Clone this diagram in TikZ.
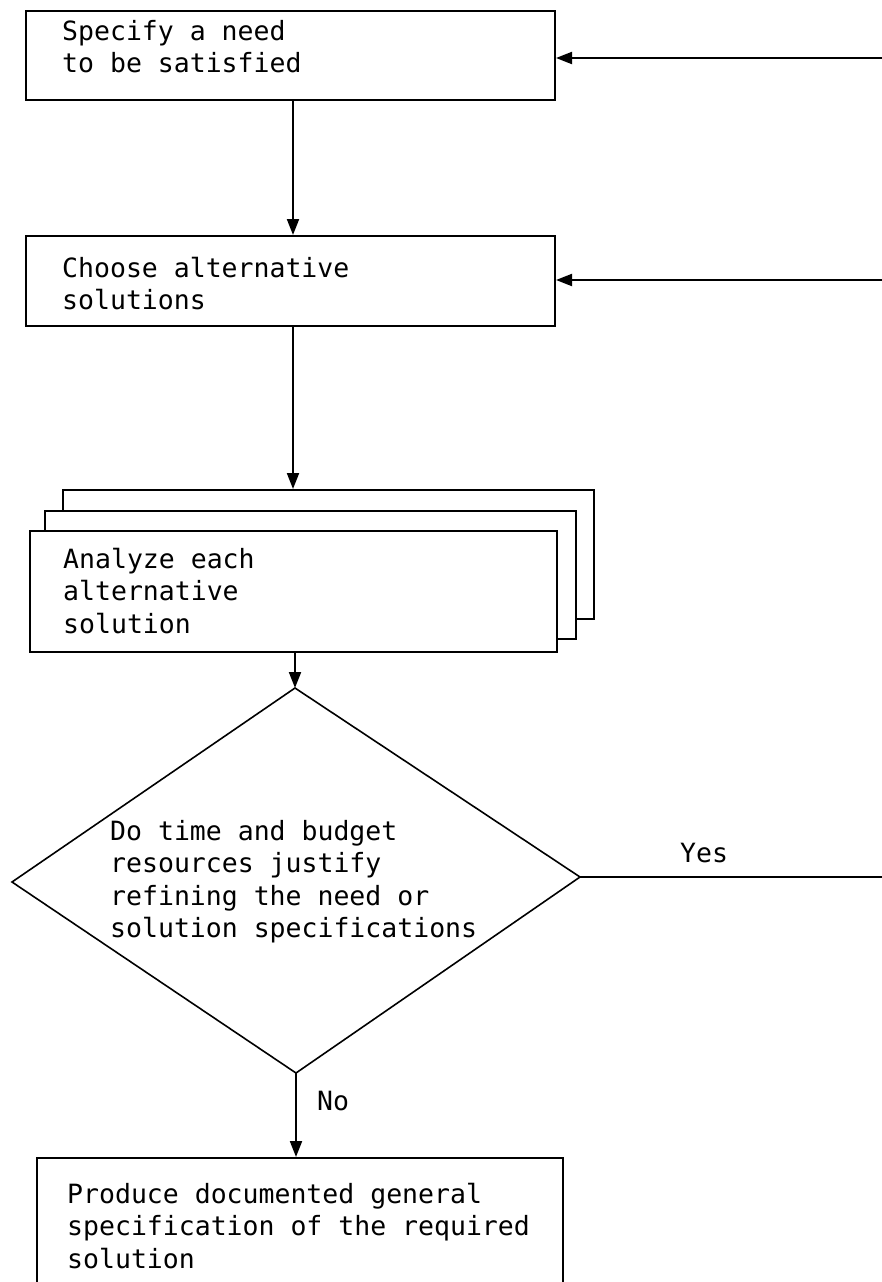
\documentclass[tikz,border=0pt]{standalone}
\usepackage{fontspec}
\setmonofont{DejaVu Sans Mono}
\usetikzlibrary{arrows.meta}
\newcommand{\lnstrut}{\rule{0pt}{21pt}}
\begin{document}
\begin{tikzpicture}[x=1pt,y=-1pt,
  frame/.style={draw,line width=2pt,fill=white,anchor=north west,inner sep=0pt},
  txt/.style={anchor=north west,inner sep=0pt,align=left,
    font=\ttfamily\fontsize{26.5}{32.5}\selectfont},
  link/.style={line width=2pt,-{Triangle[length=16pt,width=12pt]}},
  plain/.style={line width=2pt}]
\useasboundingbox (0,0) rectangle (882,1282);

% process boxes
\node[frame,minimum width=529pt,minimum height=89pt] (need) at (25,10) {};
\node[txt] (needtxt) at (62,19) {\lnstrut Specify a need\\to be satisfied};

\node[frame,minimum width=529pt,minimum height=90pt] (choose) at (25,235) {};
\node[txt] (choosetxt) at (62,256) {\lnstrut Choose alternative\\solutions};

% stacked boxes for the per-alternative analysis
\node[frame,minimum width=531pt,minimum height=129pt] (back) at (62,489) {};
\node[frame,minimum width=531pt,minimum height=128pt] (mid) at (44,510) {};
\node[frame,minimum width=527pt,minimum height=121pt] (analyze) at (29,530) {};
\node[txt] (analyzetxt) at (63,547) {\lnstrut Analyze each\\alternative\\solution};

% decision
\coordinate (dtop) at (295,688);
\coordinate (dleft) at (12,882);
\coordinate (dright) at (580,877);
\coordinate (dbot) at (296,1073);
\draw[line width=1.6pt,line join=miter] (dtop) -- (dright) -- (dbot) -- (dleft) -- cycle;
\node[txt] (decide) at (110,819) {\lnstrut Do time and budget\\resources justify\\refining the need or\\solution specifications};

% final box, running off the lower edge
\node[frame,minimum width=526pt,minimum height=140pt] (produce) at (36,1157) {};
\node[txt] (producetxt) at (67,1182) {\lnstrut Produce documented general\\specification of the required\\solution};

% feedback entries from the right edge
\coordinate (in1) at (882,58);
\coordinate (in2) at (882,280);
\coordinate (out) at (882,877);
\draw[link] (in1) -- (need.east |- in1);
\draw[link] (in2) -- (choose.east |- in2);

% main flow
\coordinate (flow) at (293,0);
\draw[link] (need.south west -| flow) -- (choose.north west -| flow);
\draw[link] (choose.south west -| flow) -- (back.north west -| flow);
\draw[link] (analyze.south west -| dtop) -- (dtop);
\draw[plain] (dright) -- (out);
\node[txt,anchor=base west] (yes) at (680,862) {Yes};
\draw[link] (dbot) -- (produce.north west -| dbot);
\node[txt,anchor=base west] (no) at (317,1110) {No};
\end{tikzpicture}
\end{document}
